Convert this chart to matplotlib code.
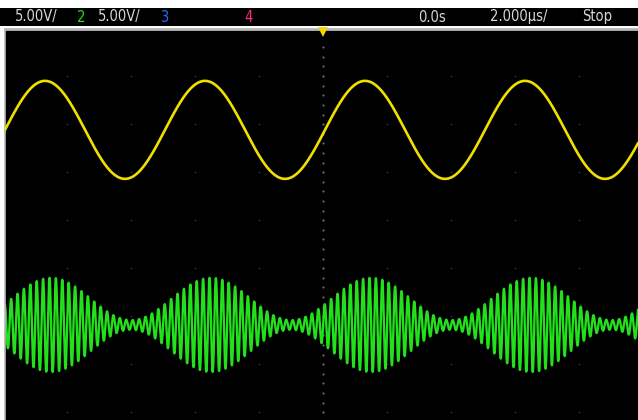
import numpy as np
import matplotlib
matplotlib.use("Agg")
import matplotlib.pyplot as plt

# Scope settings
time_per_div = 2.0      # us/div
volts_per_div = 5.0     # V/div
x_range = [-9.94, 9.84]  # visible time window, us
y_range = [-20.8, 19.9]  # visible voltage window, V

# Channel 1: modulating sine (yellow)
ch1_freq = 0.2          # MHz  (5 us period)
ch1_amp = 5.1           # V
ch1_offset = 9.4        # V
ch1_peak_t = 1.31       # us, time of a positive peak

# Channel 2: AM signal (green)
ch2_carrier = 5.0       # MHz
ch2_env_max = 4.9       # V, envelope peak
ch2_env_min = 0.5       # V, envelope at the nodes
ch2_offset = -10.9      # V
ch2_env_peak_t = 1.5    # us, time of an envelope maximum

# Header labels
header_items = [
    ("5.00V/", 15, "#d8d8d8"),
    ("2", 77, "#22dd22"),
    ("5.00V/", 98, "#d8d8d8"),
    ("3", 160, "#2a6cff"),
    ("4", 244, "#ff2a8a"),
    ("0.0s", 418, "#d8d8d8"),
    ("2.000\u00b5s/", 490, "#d8d8d8"),
    ("Stop", 582, "#d8d8d8"),
]

W, H = 638, 420
fig = plt.figure(figsize=(W / 100, H / 100), dpi=100, facecolor="white")

# header bar
hdr = fig.add_axes([0, 1 - 26 / H, 1, 18 / H])
hdr.set_facecolor("black")
hdr.set_xticks([])
hdr.set_yticks([])
for s in hdr.spines.values():
    s.set_visible(False)
for txt, px, col in header_items:
    fig.text(px / W, 1 - 17 / H, txt, color=col, fontsize=10.5,
             fontstretch="condensed", va="center", ha="left")

# main screen
ax = fig.add_axes([5 / W, 0, 1 - 5 / W, 1 - 29 / H])
ax.set_facecolor("black")
ax.set_xlim(x_range)
ax.set_ylim(y_range)
ax.set_xticks([])
ax.set_yticks([])
for side in ["right", "bottom"]:
    ax.spines[side].set_visible(False)
ax.spines["top"].set_color("#b8b8b8")
ax.spines["top"].set_linewidth(2.0)
ax.spines["left"].set_color("#b8b8b8")
ax.spines["left"].set_linewidth(1.2)

# graticule dots
gx = np.arange(-8, 10, time_per_div)
gy = np.arange(-20, 20, volts_per_div)
GX, GY = np.meshgrid(gx, gy)
ax.scatter(GX.ravel(), GY.ravel(), s=1.2, color="#3a3a3a", lw=0, zorder=1)
cy = np.arange(-20, 19, volts_per_div / 5)
ax.scatter(np.zeros_like(cy), cy, s=2.5, color="#6a6a6a", lw=0, zorder=1)

t = np.linspace(x_range[0], x_range[1], 30000)
ch1 = ch1_offset + ch1_amp * np.cos(2 * np.pi * ch1_freq * (t - ch1_peak_t))
a0 = (ch2_env_max + ch2_env_min) / 2
m = (ch2_env_max - ch2_env_min) / (ch2_env_max + ch2_env_min)
env = a0 * (1 + m * np.cos(2 * np.pi * ch1_freq * (t - ch2_env_peak_t)))
ch2 = ch2_offset + env * np.sin(2 * np.pi * ch2_carrier * t)

ax.plot(t, ch2, color="#22e01c", lw=1.7, zorder=2)
ax.plot(t, ch1, color="#f0e000", lw=1.9, zorder=3)

# trigger position marker
ax.plot([0], [y_range[1] - 0.3], marker="v", color="#f5d800", markersize=7,
        clip_on=False, zorder=4, markeredgewidth=0)

fig.savefig("out.png", dpi=100, facecolor="white")
